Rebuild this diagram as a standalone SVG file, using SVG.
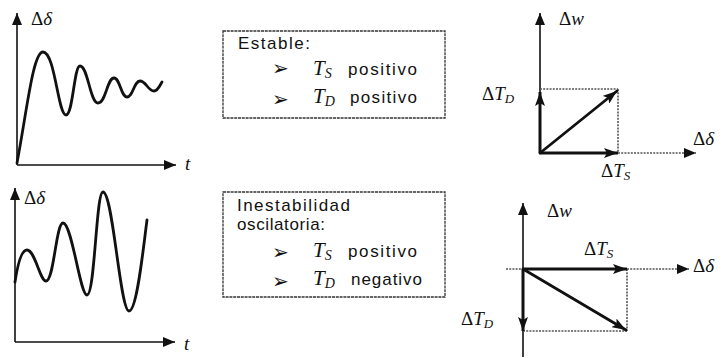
<svg xmlns="http://www.w3.org/2000/svg" width="723" height="358" viewBox="0 0 723 358">
<defs>
<marker id="ah" viewBox="0 0 12 10" refX="12" refY="5" markerWidth="12" markerHeight="10" markerUnits="userSpaceOnUse" orient="auto">
<path d="M0,0 L12,5 L0,10 Z" fill="#111"/>
</marker>
<marker id="ahs" viewBox="0 0 14 10" refX="14" refY="5" markerWidth="14" markerHeight="10" markerUnits="userSpaceOnUse" orient="auto">
<path d="M0,0 L14,5 L0,10 L3,5 Z" fill="#111"/>
</marker>
</defs>
<style>
.ax{stroke:#111;stroke-width:1.6;fill:none}
.cv{stroke:#111;stroke-width:2.8;fill:none;stroke-linejoin:round;stroke-linecap:round}
.thick{stroke:#111;stroke-width:3;fill:none}
.dot{stroke:#555;stroke-width:1.6;fill:none;stroke-dasharray:2 1.2}
.box{stroke:#333;stroke-width:1.3;fill:none;stroke-dasharray:3 0.8}
.lbl{font-family:"Liberation Serif",serif;font-size:19px;fill:#111}
.it{font-style:italic}
.txt{font-family:"Liberation Sans",Arial,sans-serif;font-size:17px;fill:#111}
.bul{font-family:"DejaVu Sans",sans-serif;font-size:20px;fill:#111}
.T{font-family:"Liberation Serif",serif;font-style:italic;font-size:21px;fill:#111}
</style>

<g id="graph-stable">
<line class="ax" x1="17" y1="165" x2="17" y2="13" marker-end="url(#ah)"/>
<line class="ax" x1="17" y1="165" x2="176" y2="165" marker-end="url(#ah)"/>
<path class="cv" d="M17,163 C27,110 33,52 43,52 C55,52 58,115 66,115 C73,115 74,66 80,66 C88,66 90,103 98,103 C106,103 107,78 114,78 C120,78 121,97 127,97 C133,97 134,81 140,81 C146,81 148,91 154,91 C158,91 160,85 162,82"/>
<text class="lbl" x="31" y="25">Δ<tspan class="it">δ</tspan></text>
<text class="lbl it" x="185" y="170" font-size="23">t</text>
</g>

<g id="graph-unstable">
<line class="ax" x1="15" y1="342" x2="15" y2="188" marker-end="url(#ah)"/>
<line class="ax" x1="15" y1="342" x2="175" y2="342" marker-end="url(#ah)"/>
<path class="cv" d="M15,282 C18,262 22,250 27,250 C35,250 40,281 46,281 C54,281 56,223 63,223 C72,223 80,295 87,295 C95,295 96,192 103,192 C113,192 120,311 129,311 C137,311 143,250 147,220"/>
<text class="lbl" x="24" y="204">Δ<tspan class="it">δ</tspan></text>
<text class="lbl it" x="184" y="350" font-size="23">t</text>
</g>

<g id="box-stable">
<rect class="box" x="223" y="31" width="222" height="87" fill="#fff"/>
<text class="txt" x="238" y="49" textLength="72" lengthAdjust="spacing">Estable:</text>
<text class="bul" x="272" y="75">➢</text>
<text class="T" x="313" y="75">T<tspan font-size="14" dy="3">S</tspan></text>
<text class="txt" x="348" y="75" textLength="69" lengthAdjust="spacing">positivo</text>
<text class="bul" x="272" y="106">➢</text>
<text class="T" x="313" y="103">T<tspan font-size="14" dy="3">D</tspan></text>
<text class="txt" x="350" y="103" textLength="67" lengthAdjust="spacing">positivo</text>
</g>

<g id="box-unstable">
<rect class="box" x="223" y="192" width="222" height="105" fill="#fff"/>
<text class="txt" x="237" y="211" textLength="113" lengthAdjust="spacing">Inestabilidad</text>
<text class="txt" x="237" y="230" textLength="88" lengthAdjust="spacing">oscilatoria:</text>
<text class="bul" x="272" y="259">➢</text>
<text class="T" x="313" y="257">T<tspan font-size="14" dy="3">S</tspan></text>
<text class="txt" x="348" y="257" textLength="69" lengthAdjust="spacing">positivo</text>
<text class="bul" x="272" y="288">➢</text>
<text class="T" x="313" y="285">T<tspan font-size="14" dy="3">D</tspan></text>
<text class="txt" x="351" y="285" textLength="71" lengthAdjust="spacing">negativo</text>
</g>

<g id="phasor-stable">
<line class="ax" x1="540" y1="153" x2="540" y2="13" marker-end="url(#ah)"/>
<line class="dot" x1="618" y1="153" x2="696" y2="153" marker-end="url(#ah)"/>
<line class="dot" x1="540" y1="89" x2="618" y2="89"/>
<line class="dot" x1="618" y1="89" x2="618" y2="153"/>
<line class="thick" x1="540" y1="153" x2="540" y2="92" marker-end="url(#ahs)"/>
<line class="thick" x1="540" y1="153" x2="618" y2="153" marker-end="url(#ahs)"/>
<line class="cv" x1="540" y1="153" x2="617" y2="91" marker-end="url(#ahs)" stroke-width="2.4"/>
<text class="lbl" x="559" y="25">Δ<tspan class="it">w</tspan></text>
<text class="lbl" x="482" y="100">Δ<tspan class="it">T</tspan><tspan class="it" font-size="13" dy="3">D</tspan></text>
<text class="lbl" x="601" y="177">Δ<tspan class="it">T</tspan><tspan class="it" font-size="13" dy="3">S</tspan></text>
<text class="lbl" x="693" y="145">Δ<tspan class="it">δ</tspan></text>
</g>

<g id="phasor-unstable">
<line class="ax" x1="523" y1="357" x2="523" y2="203" marker-end="url(#ah)"/>
<line class="dot" x1="506" y1="269" x2="523" y2="269"/>
<line class="dot" x1="627" y1="269" x2="689" y2="269" marker-end="url(#ah)"/>
<line class="dot" x1="523" y1="331" x2="627" y2="331"/>
<line class="dot" x1="627" y1="269" x2="627" y2="331"/>
<line class="thick" x1="523" y1="269" x2="627" y2="269" marker-end="url(#ahs)"/>
<line class="thick" x1="523" y1="269" x2="523" y2="331" marker-end="url(#ahs)"/>
<line class="cv" x1="523" y1="269" x2="626" y2="330" marker-end="url(#ahs)" stroke-width="1.8"/>
<text class="lbl" x="547" y="217">Δ<tspan class="it">w</tspan></text>
<text class="lbl" x="584" y="255">Δ<tspan class="it">T</tspan><tspan class="it" font-size="13" dy="3">S</tspan></text>
<text class="lbl" x="693" y="272">Δ<tspan class="it">δ</tspan></text>
<text class="lbl" x="461" y="325">Δ<tspan class="it">T</tspan><tspan class="it" font-size="13" dy="3">D</tspan></text>
</g>
</svg>
